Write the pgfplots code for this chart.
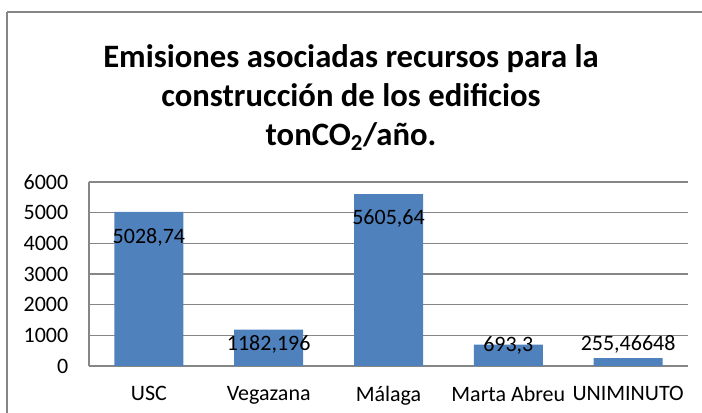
\documentclass[border=0pt]{standalone}
\usepackage{pgfplots}
\pgfplotsset{compat=1.18}
\usepackage{pgfplotstable}
\usepackage{fontspec}
\setmainfont{Carlito}

\definecolor{barblue}{HTML}{4F81BD}
\definecolor{framegray}{HTML}{868686}

% x, bar value, label height, label text
\pgfplotstableread{
x y ly label
1 5028.74 4206 5028,74
2 1182.196 717 1182,196
3 5605.64 4826 5605,64
4 693.3 685 693,3
5 255.46648 717 255,46648
}\emisiones

\begin{document}
\begin{tikzpicture}
\useasboundingbox (0pt,0pt) rectangle (526.5pt,309.75pt);
\draw[framegray, line width=1.5pt] (5.25pt,300.75pt) -- (5.25pt,-10pt);
\draw[framegray, line width=1.5pt] (5.25pt,300.75pt) -- (540pt,300.75pt);
\node[font=\bfseries\fontsize{24.5}{29}\selectfont, align=center] at (263.25pt,236.5pt)
  {Emisiones asociadas recursos para la\\construcción de los edificios\\tonCO\textsubscript{2}/año.};
\begin{axis}[
  at={(66.75pt,35.25pt)}, anchor=south west,
  scale only axis, width=449.25pt, height=138pt,
  xmin=0.5, xmax=5.5, ymin=0, ymax=6000,
  axis x line=bottom, axis y line=left,
  axis line style={framegray, line width=0.8pt, -},
  xtick={1,2,3,4,5},
  xticklabels={USC, Vegazana, Málaga, Marta Abreu, UNIMINUTO},
  ytick distance=1000,
  major tick length=0pt,
  ymajorgrids, grid style={framegray, line width=0.8pt},
  tick label style={font=\fontsize{16.5}{19}\selectfont},
  /pgf/number format/assume math mode=true,
  yticklabel style={/pgf/number format/1000 sep={}, xshift=-12pt},
  xticklabel style={yshift=-12pt},
  clip=false,
]
\addplot[ybar, bar width=51.75pt, fill=barblue, draw=none] table[x=x, y=y] {\emisiones};
\addplot[draw=none, mark=none, nodes near coords, point meta=explicit symbolic,
  nodes near coords align={center},
  every node near coord/.append style={font=\fontsize{16.5}{19}\selectfont, text=black}]
  table[x=x, y=ly, meta=label] {\emisiones};
\end{axis}
\end{tikzpicture}
\end{document}
